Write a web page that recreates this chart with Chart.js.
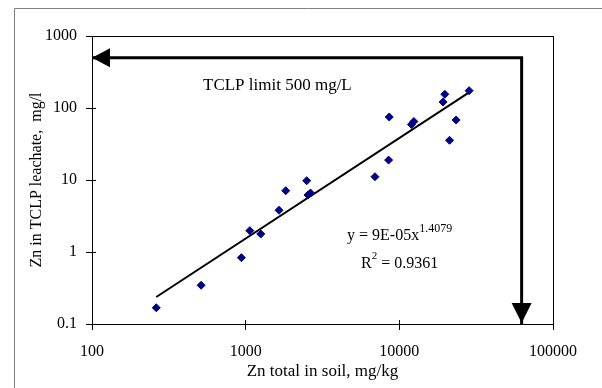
<!DOCTYPE html>
<html>
<head>
<meta charset="utf-8">
<script src="https://cdn.jsdelivr.net/npm/chart.js@4.4.0/dist/chart.umd.min.js"></script>
<style>
  html, body { margin: 0; padding: 0; background: #fff; }
  #wrap { position: relative; width: 602px; height: 388px; }
</style>
</head>
<body>
<div id="wrap"><canvas id="zn-chart"></canvas></div>
<script>
/* data */
const soilZn = [262, 513, 938, 1064, 1254, 1649, 1823, 2496, 2545, 2642, 6937, 8515, 8596, 11980, 12436, 19275, 19776, 21220, 23420, 28450];
const leachZn = [0.168, 0.345, 0.834, 1.98, 1.78, 3.80, 7.10, 9.78, 6.19, 6.6, 11.1, 18.9, 75, 59, 64.9, 121, 155, 35.6, 68.1, 174];

/* power trend line end points */
const trendX = [262, 28450];
const trendY = [0.237, 165];

/* TCLP limit arrow: along y = 500, then down to the x axis */
const limitX = [100, 62500, 62500];
const limitY = [500, 500, 0.1];

const xTicks = [100, 1000, 10000, 100000];
const yTicks = [0.1, 1, 10, 100, 1000];

const serif = '"Liberation Serif", "Times New Roman", serif';

function toPoints(xs, ys) {
    return xs.map((x, i) => ({x: x, y: ys[i]}));
}

function px(v) {
    return Math.round(v - 0.5) + 0.5;
}

/* plot frame, crossing ticks, arrow heads and the text notes */
const decorPlugin = {
    id: 'decor',
    beforeDraw(chart) {
        const ctx = chart.ctx;
        ctx.save();
        ctx.strokeStyle = '#808080';
        ctx.lineWidth = 1;
        ctx.beginPath();
        ctx.moveTo(14.5, chart.height + 5);
        ctx.lineTo(14.5, 8.5);
        ctx.lineTo(chart.width + 5, 8.5);
        ctx.stroke();
        ctx.restore();
    },
    afterDatasetsDraw(chart) {
        const ctx = chart.ctx;
        const ca = chart.chartArea;
        const xs = chart.scales.x;
        const ys = chart.scales.y;
        ctx.save();

        // box round the plot area
        ctx.strokeStyle = '#000';
        ctx.lineWidth = 1;
        ctx.strokeRect(px(ca.left), px(ca.top), Math.round(ca.right) - Math.round(ca.left), Math.round(ca.bottom) - Math.round(ca.top));

        // inner half of the tick marks
        ctx.beginPath();
        for (const v of xTicks) {
            const x = px(xs.getPixelForValue(v));
            ctx.moveTo(x, ca.bottom);
            ctx.lineTo(x, ca.bottom - 4);
        }
        for (const v of yTicks) {
            const y = px(ys.getPixelForValue(v));
            ctx.moveTo(ca.left, y);
            ctx.lineTo(ca.left + 4, y);
        }
        ctx.stroke();

        // arrow heads
        const pts = chart.getDatasetMeta(2).data;
        const first = pts[0], last = pts[pts.length - 1];
        ctx.fillStyle = '#000';
        ctx.beginPath();
        ctx.moveTo(first.x, first.y);
        ctx.lineTo(first.x + 18, first.y - 9.5);
        ctx.lineTo(first.x + 18, first.y + 9.5);
        ctx.closePath();
        ctx.fill();
        ctx.beginPath();
        ctx.moveTo(last.x, last.y - 1);
        ctx.lineTo(last.x - 10, last.y - 21);
        ctx.lineTo(last.x + 10, last.y - 21);
        ctx.closePath();
        ctx.fill();

        // notes
        ctx.fillStyle = '#000';
        ctx.textAlign = 'left';
        ctx.textBaseline = 'alphabetic';
        ctx.font = '17px ' + serif;
        ctx.fillText('TCLP limit 500 mg/L', ca.left + 111, ca.top + 53.5);

        let x0 = ca.left + 255;
        ctx.font = '16px ' + serif;
        ctx.fillText('y = 9E-05x', x0, ca.top + 204);
        let w = ctx.measureText('y = 9E-05x').width;
        ctx.font = '12px ' + serif;
        ctx.fillText('1.4079', x0 + w, ca.top + 196);

        x0 = ca.left + 269;
        ctx.font = '16px ' + serif;
        ctx.fillText('R', x0, ca.top + 232);
        w = ctx.measureText('R').width;
        ctx.font = '11px ' + serif;
        ctx.fillText('2', x0 + w, ca.top + 222.5);
        const w2 = ctx.measureText('2').width;
        ctx.font = '16px ' + serif;
        ctx.fillText(' = 0.9361', x0 + w + w2, ca.top + 232);

        ctx.restore();
    }
};

function initZnChart() {
    const ctx = document.getElementById('zn-chart');
    return new Chart(ctx, {
        type: 'scatter',
        data: {
            datasets: [
                {
                    label: 'samples',
                    data: toPoints(soilZn, leachZn),
                    pointStyle: 'rectRot',
                    pointRadius: 4,
                    backgroundColor: '#000080',
                    borderColor: '#000080',
                    borderWidth: 1
                },
                {
                    label: 'trend',
                    data: toPoints(trendX, trendY),
                    showLine: true,
                    borderColor: '#000',
                    borderWidth: 2,
                    pointRadius: 0
                },
                {
                    label: 'limit',
                    data: toPoints(limitX, limitY),
                    showLine: true,
                    borderColor: '#000',
                    borderWidth: 3,
                    borderJoinStyle: 'miter',
                    pointRadius: 0,
                    clip: false
                }
            ]
        },
        options: {
            responsive: true,
            maintainAspectRatio: false,
            animation: false,
            devicePixelRatio: 1,
            events: [],
            layout: {
                padding: {top: 36, right: 49, left: 0, bottom: 0}
            },
            plugins: {
                legend: {display: false},
                tooltip: {enabled: false}
            },
            scales: {
                x: {
                    type: 'logarithmic',
                    position: 'bottom',
                    min: 100,
                    max: 100000,
                    afterBuildTicks: (s) => { s.ticks = xTicks.map(v => ({value: v})); },
                    afterFit: (s) => { s.height = 64; },
                    ticks: {
                        callback: (v) => String(v),
                        color: '#000',
                        font: {family: serif, size: 16},
                        padding: 12,
                        maxRotation: 0,
                        autoSkip: false
                    },
                    grid: {drawOnChartArea: false, tickLength: 6, color: '#000'},
                    border: {color: '#000', width: 1},
                    title: {
                        display: true,
                        text: 'Zn total in soil, mg/kg',
                        color: '#000',
                        font: {family: serif, size: 17},
                        padding: {top: 0, bottom: 6}
                    }
                },
                y: {
                    type: 'logarithmic',
                    min: 0.1,
                    max: 1000,
                    afterBuildTicks: (s) => { s.ticks = yTicks.map(v => ({value: v})); },
                    afterFit: (s) => { s.width = 92; },
                    ticks: {
                        callback: (v) => String(v),
                        color: '#000',
                        font: {family: serif, size: 16},
                        padding: 9,
                        autoSkip: false
                    },
                    grid: {drawOnChartArea: false, tickLength: 6, color: '#000'},
                    border: {color: '#000', width: 1},
                    title: {
                        display: true,
                        text: 'Zn in TCLP leachate,  mg/l',
                        color: '#000',
                        font: {family: serif, size: 16},
                        padding: {top: 27, bottom: 0}
                    }
                }
            }
        },
        plugins: [decorPlugin]
    });
}

const znChart = initZnChart();
</script>
</body>
</html>
